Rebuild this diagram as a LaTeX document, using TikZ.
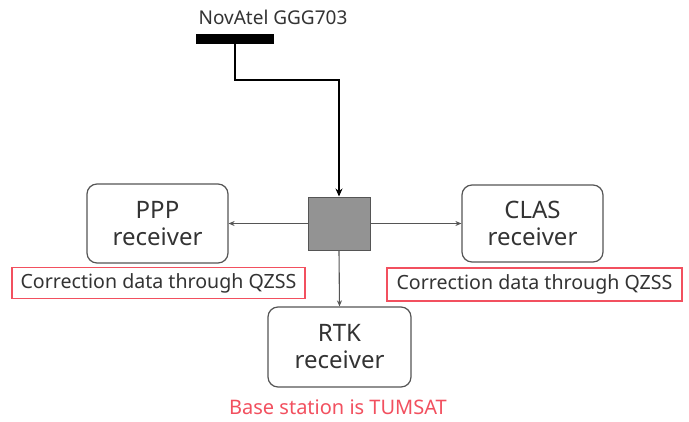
\documentclass[tikz,border=0pt]{standalone}
\usepackage{fontspec}
\setmainfont{Noto Sans}
\usetikzlibrary{arrows.meta}
\definecolor{txt}{HTML}{333333}
\definecolor{redc}{HTML}{F2505F}
\definecolor{edge}{HTML}{555555}
\tikzset{
  recv/.style={draw=edge, line width=1.2pt, rounded corners=10pt, text=txt, font=\fontsize{24}{27}\selectfont, align=center, inner sep=0pt},
  note/.style={draw=redc, line width=1.2pt, text=txt, font=\fontsize{19.6}{22}\selectfont, inner sep=0pt},
  link/.style={draw=edge, line width=1.1pt, -{Stealth[length=6pt,width=5pt]}},
}
\begin{document}
\begin{tikzpicture}[x=1pt,y=-1pt]
\useasboundingbox[fill=white] (0,0) rectangle (689,421);
\node[text=txt, font=\fontsize{19}{21}\selectfont] (lbl) at (273,17) {NovAtel GGG703};
\node[fill=black, minimum width=78pt, minimum height=10pt, inner sep=0pt] (ant) at (235,39) {};
\node[draw=edge, fill=gray!85!white, line width=1pt, minimum width=62pt, minimum height=53pt, inner sep=0pt] (hub) at (339,223.5) {};
\node[recv, minimum width=141pt, minimum height=79pt] (ppp) at (157.5,223.5) {PPP\\receiver};
\node[recv, minimum width=141pt, minimum height=77pt] (clas) at (532.5,223.5) {CLAS\\receiver};
\node[recv, minimum width=143pt, minimum height=80pt] (rtk) at (339.5,347) {RTK\\receiver};
\node[note, minimum width=293pt, minimum height=31pt] (n1) at (158.5,283) {Correction data through QZSS};
\node[note, minimum width=295pt, minimum height=33pt] (n2) at (534.5,284.5) {Correction data through QZSS};
\node[text=redc, font=\fontsize{20}{22}\selectfont, inner sep=0pt] (base) at (338,407) {Base station is TUMSAT};
\coordinate (k1) at (235,80);
\coordinate (k2) at (339,80);
\draw[line width=2.8pt, -{Stealth[length=8pt,width=7pt]}] (ant.south) -- (k1) -- (k2) -- (hub.north);
\draw[link] (hub.west) -- (ppp.east);
\draw[link] (hub.east) -- (clas.west);
\draw[link] (hub.south) -- (rtk.north);
\end{tikzpicture}
\end{document}
